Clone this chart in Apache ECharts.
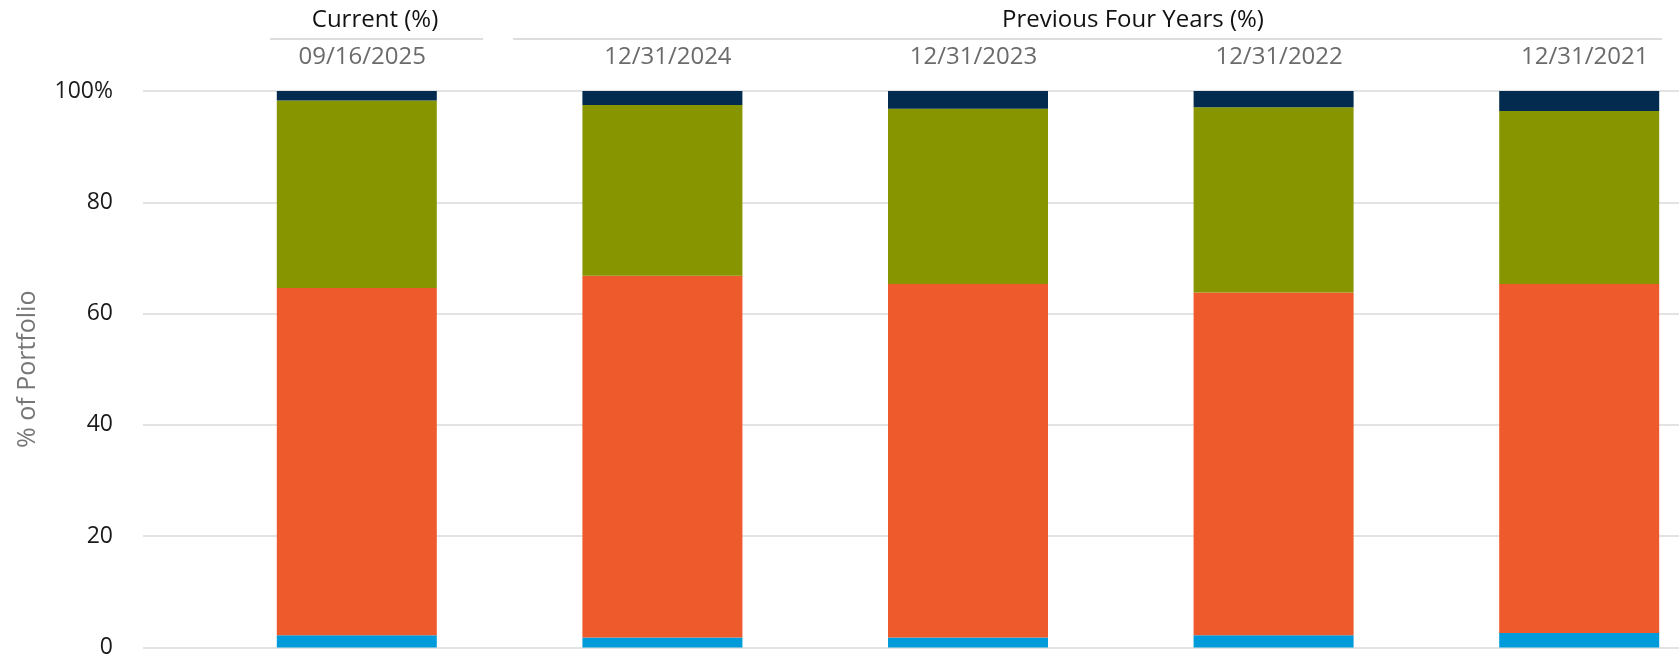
<!DOCTYPE html>
<html>
<head>
<meta charset="utf-8">
<script src="https://cdn.jsdelivr.net/npm/echarts@6/dist/echarts.min.js"></script>
<style>
html,body{margin:0;padding:0;background:#fff;}
#chart{width:1679px;height:657px;}
</style>
</head>
<body>
<div id="chart"></div>
<script>
const categories = ['09/16/2025', '12/31/2024', '12/31/2023', '12/31/2022', '12/31/2021'];
const cashValues = [2.2, 1.8, 1.8, 2.2, 2.6];
const equityValues = [62.4, 65.0, 63.5, 61.6, 62.7];
const fixedIncomeValues = [33.7, 30.7, 31.5, 33.3, 31.1];
const otherValues = [1.7, 2.5, 3.2, 2.9, 3.6];
const yTickLabels = ['0', '20', '40', '60', '80', '100%'];
const headerTexts = ['Current (%)', 'Previous Four Years (%)'];
const yAxisTitle = '% of Portfolio';

const FONT = '"Open Sans", "Noto Sans", sans-serif';
const chart = echarts.init(document.getElementById('chart'), null, {renderer: 'canvas'});

const mk = (name, data, color) => ({
  name, type: 'bar', stack: 'total', data,
  xAxisIndex: 1, yAxisIndex: 1,
  barWidth: 160,
  itemStyle: {color},
  emphasis: {disabled: true}
});

chart.setOption({
  animation: false,
  backgroundColor: '#ffffff',
  grid: [
    {left: 143, right: 0, top: 91, bottom: 9.5, outerBoundsMode: 'none'},
    {left: 204, width: 1528, top: 91, bottom: 9.5, outerBoundsMode: 'none'}
  ],
  xAxis: [
    {gridIndex: 0, type: 'category', data: [], show: false},
    {
      gridIndex: 1, type: 'category', data: categories, position: 'top',
      axisLine: {show: false}, axisTick: {show: false},
      axisLabel: {color: '#6b6b6b', fontFamily: FONT, fontSize: 24, margin: 22, interval: 0, padding: [0, 0, 0, 11]}
    }
  ],
  yAxis: [
    {
      gridIndex: 0, type: 'value', min: 0, max: 100, interval: 20,
      name: yAxisTitle, nameLocation: 'middle', nameGap: 103,
      nameTextStyle: {color: '#777777', fontFamily: FONT, fontSize: 25},
      axisLine: {show: false}, axisTick: {show: false},
      axisLabel: {
        color: '#1a1a1a', fontFamily: FONT, fontSize: 23, margin: 30,
        formatter: v => yTickLabels[Math.round(v / 20)]
      },
      splitLine: {lineStyle: {color: '#e3e3e3', width: 2}}
    },
    {gridIndex: 1, type: 'value', min: 0, max: 100, interval: 20, show: false, splitLine: {show: false}}
  ],
  graphic: [
    {type: 'text', x: 375, y: 20, style: {text: headerTexts[0], fill: '#111111', font: '24px ' + FONT, textAlign: 'center', textVerticalAlign: 'middle'}},
    {type: 'text', x: 1133, y: 20, style: {text: headerTexts[1], fill: '#111111', font: '24px ' + FONT, textAlign: 'center', textVerticalAlign: 'middle'}},
    {type: 'line', shape: {x1: 270, y1: 39, x2: 483, y2: 39}, style: {stroke: '#dddddd', lineWidth: 2}},
    {type: 'line', shape: {x1: 513, y1: 39, x2: 1662, y2: 39}, style: {stroke: '#dddddd', lineWidth: 2}}
  ],
  series: [
    mk('Cash', cashValues, '#009bdb'),
    mk('Equity', equityValues, '#ee5a2b'),
    mk('Fixed Income', fixedIncomeValues, '#879600'),
    mk('Other', otherValues, '#022b4f')
  ]
});
</script>
</body>
</html>
